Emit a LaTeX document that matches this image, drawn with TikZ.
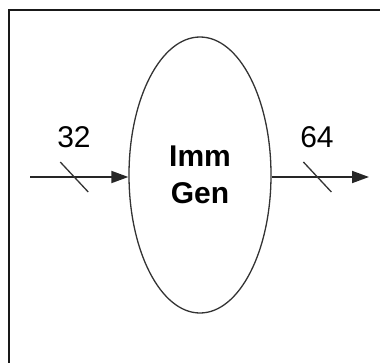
\documentclass[tikz,border=0pt]{standalone}
\usepackage{fontspec}
\setmainfont{Liberation Sans}
\usetikzlibrary{shapes.geometric,arrows.meta,calc}
\begin{document}
\begin{tikzpicture}[x=1pt,y=-1pt,
  wire/.style={line width=1.8pt,draw=black!85,-{Triangle[length=17pt,width=12pt]}},
  slash/.style={line width=1.3pt,draw=black!80},
  buslabel/.style={font=\fontsize{30}{32}\selectfont,anchor=base,inner sep=0pt},
  gennode/.style={ellipse,draw=black!80,line width=1.3pt,minimum width=142pt,minimum height=276pt,inner sep=0pt,align=center,font=\fontsize{30}{37}\selectfont\bfseries}
]
\useasboundingbox (0,0) rectangle (380,362);
\begin{scope}
\clip (0,0) rectangle (380,362);
\draw[line width=2pt,draw=black!90] (9,10) rectangle (400,380);
\end{scope}
\node[gennode] (gen) at (200,175) {Imm\\Gen};
\coordinate (in) at (30,177);
\coordinate (out) at (369,177);
\draw[wire] (in) -- (gen.west |- in);
\draw[wire] (gen.east |- out) -- (out);
\draw[slash] ($(in)!0.45!(gen.west |- in)$) +(-14,-15) -- +(14,15);
\draw[slash] ($(gen.east |- out)!0.47!(out)$) +(-14,-15) -- +(14,15);
\node[buslabel] (l32) at (74,147) {32};
\node[buslabel] (l64) at (317,147) {64};
\end{tikzpicture}
\end{document}
